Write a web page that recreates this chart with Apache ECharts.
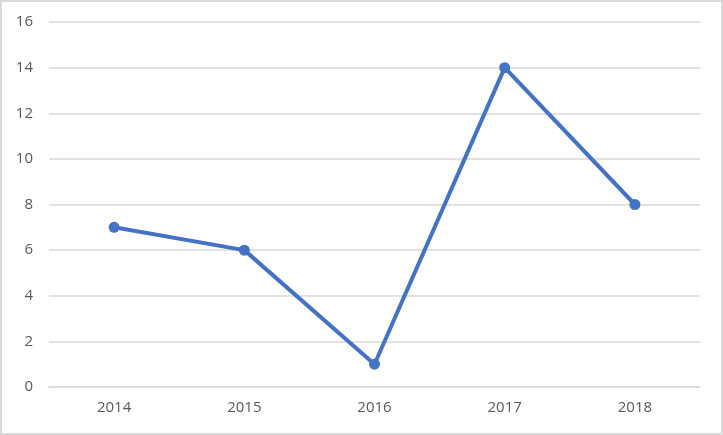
<!DOCTYPE html>
<html>
<head>
<meta charset="utf-8">
<script src="https://cdn.jsdelivr.net/npm/echarts@6/dist/echarts.min.js"></script>
<style>
html,body{margin:0;padding:0;background:#fff;}
#c{width:723px;height:435px;}
</style>
</head>
<body>
<div id="c"></div>
<script>
const categories = ['2014', '2015', '2016', '2017', '2018'];
const values = [7, 6, 1, 14, 8];
const yTicks = { min: 0, max: 16, interval: 2 };

const chart = echarts.init(document.getElementById('c'), null, { renderer: 'canvas' });
chart.setOption({
  animation: false,
  backgroundColor: '#ffffff',
  graphic: [{
    type: 'rect',
    shape: { x: 1, y: 1, width: 721, height: 433 },
    style: { fill: 'none', stroke: '#d9d9d9', lineWidth: 2 },
    silent: true
  }],
  grid: { left: 49, right: 23, top: 22, bottom: 48, containLabel: false },
  xAxis: {
    type: 'category',
    data: categories,
    boundaryGap: true,
    axisLine: { show: true, lineStyle: { color: '#d9d9d9', width: 1.5 } },
    axisTick: { show: false },
    axisLabel: { color: '#595959', fontSize: 15, fontFamily: 'Open Sans', margin: 13 }
  },
  yAxis: {
    type: 'value',
    min: yTicks.min, max: yTicks.max, interval: yTicks.interval,
    axisLine: { show: false },
    axisTick: { show: false },
    splitLine: { lineStyle: { color: '#d9d9d9', width: 1.5 } },
    axisLabel: { color: '#595959', fontSize: 15, fontFamily: 'Open Sans', margin: 16 }
  },
  series: [{
    type: 'line',
    data: values,
    symbol: 'circle',
    symbolSize: 11,
    lineStyle: { color: '#4472C4', width: 4 },
    itemStyle: { color: '#4472C4' }
  }]
});
</script>
</body>
</html>
